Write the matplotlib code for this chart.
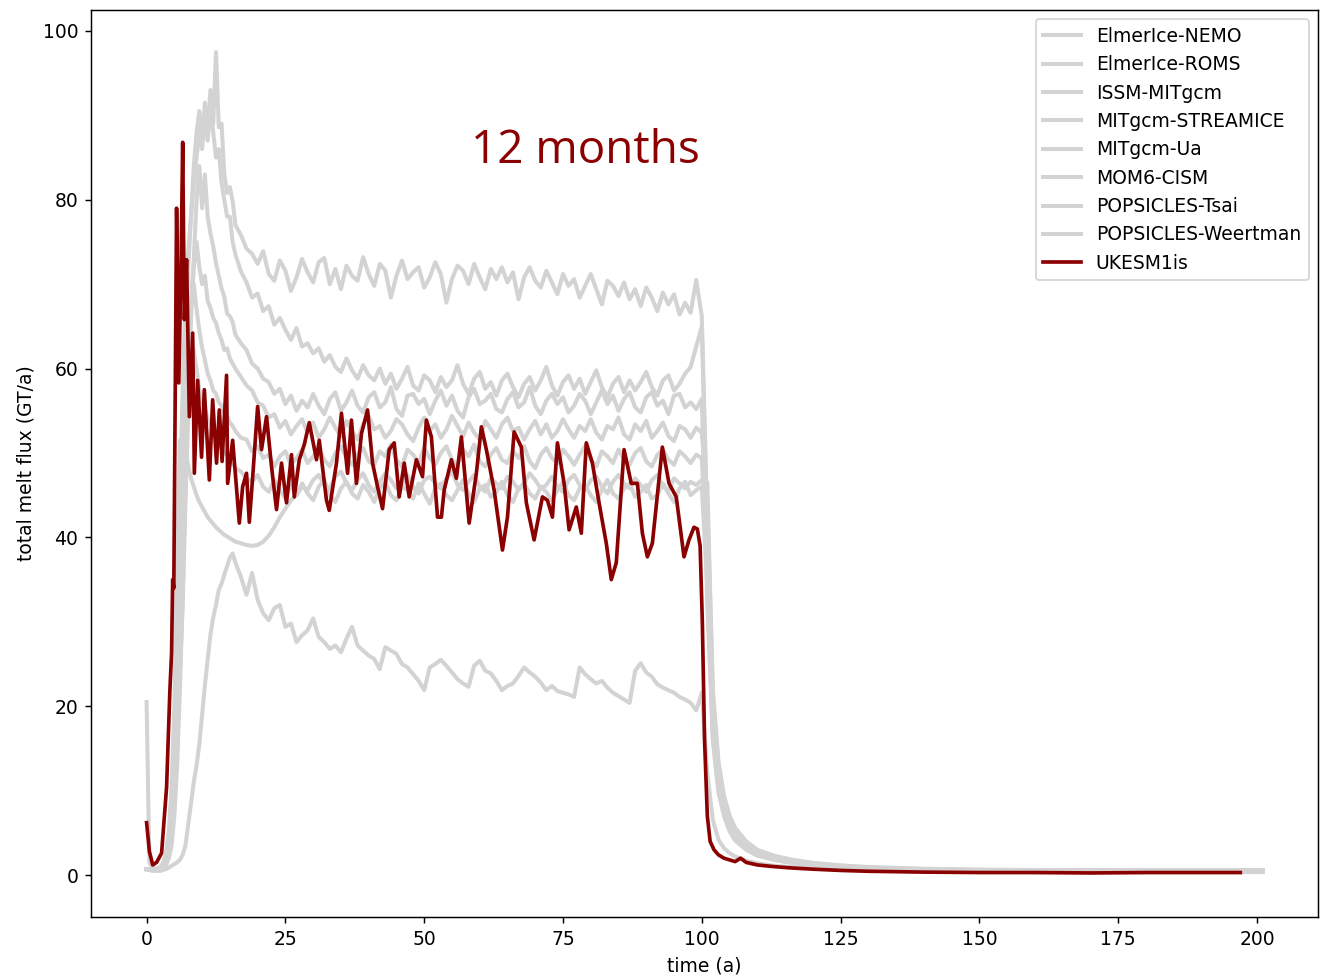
import numpy as np
import matplotlib
matplotlib.use('AGG')
import matplotlib.pyplot as plt

plt.rcParams['font.size'] = 10.25

# time axis shared by the grey (ensemble) models
t_early = [0, 0.5, 1, 1.5, 2, 2.5, 3, 3.5, 4, 4.5, 5, 5.5, 6, 6.5, 7, 7.5,
           8, 8.5, 9, 9.5, 10, 10.5, 11, 11.5, 12, 12.5, 13, 13.5, 14, 14.5,
           15, 15.5, 16]
t_mid = list(range(17, 101))
t_tail = [101, 102, 103, 104, 105, 106, 108, 110, 113, 116, 120, 125, 130,
          140, 150, 160, 170, 180, 190, 201]
t_grey = np.array(t_early + t_mid + t_tail, dtype=float)

# --- grey models: early (0-16 by 0.5), mid (17-100 yearly), tail ---
elmerice_nemo = [
    20.5, 1.5, 0.9, 0.8, 0.8, 1.0, 1.4, 2.5, 5.0, 10.0, 18.0, 30.0, 45.0, 58.0, 68.0, 74.0,
    78.0, 82.0, 85.0, 88.0, 86.0, 90.0, 87.0, 91.0, 88.0, 85.0, 86.0, 82.0, 80.0, 78.0,
    78.0, 75.0, 73.5,
    71.5, 70.2, 68.4, 68.9, 66.8, 67.4, 65.2, 66.0, 64.6, 63.4, 64.8, 62.6,
    63.0, 61.8, 62.4, 60.8, 61.6, 60.2, 59.6, 61.2, 59.8, 58.8, 60.4, 59.2,
    58.6, 60.0, 58.2, 59.4, 57.6, 58.8, 60.2, 58.0, 57.4, 59.2, 58.6, 57.2,
    59.0, 57.8, 58.6, 60.4, 58.2, 57.0, 58.8, 59.6, 57.6, 58.4, 56.8, 58.6,
    59.4, 57.8, 56.6, 58.2, 59.0, 57.4, 58.6, 60.2, 58.0, 56.8, 58.4, 59.2,
    57.6, 58.8, 57.0, 58.4, 59.8, 57.8, 56.6, 58.2, 59.0, 57.2, 58.6, 57.4,
    58.4, 59.6, 57.8, 56.8, 58.6, 59.2, 57.4, 58.2, 59.4, 60.2, 62.6, 65.0,
    40.0, 19.0, 11.5, 8.0, 6.0, 4.8, 3.4, 2.6, 2.0, 1.6, 1.3, 1.0, 0.85,
    0.65, 0.55, 0.5, 0.5, 0.5, 0.5, 0.5]

elmerice_roms = [
    0.7, 0.7, 0.6, 0.6, 0.6, 0.7, 0.9, 1.3, 2.2, 4.0, 8.0, 15.0, 26.0, 40.0, 52.0, 62.0,
    68.0, 73.0, 80.0, 84.0, 79.0, 83.0, 78.0, 76.0, 74.5, 72.5, 71.0, 69.5, 68.5, 66.5,
    66.2, 65.5, 64.0,
    63.0, 62.2, 60.6, 60.0, 58.8, 58.4, 57.0, 57.6, 55.8, 56.8, 55.0, 56.2,
    55.4, 57.0, 55.6, 54.6, 56.4, 57.2, 55.0, 56.0, 57.4, 55.6, 54.8, 56.6,
    57.2, 55.4, 56.0, 57.8, 55.2, 54.4, 56.8, 57.0, 55.8, 56.4, 54.6, 56.2,
    57.4, 55.6, 56.8, 55.0, 54.2, 56.6, 57.6, 55.8, 56.2, 57.0, 55.2, 54.8,
    56.4, 57.2, 55.4, 56.0, 57.8, 55.6, 54.6, 56.2, 57.0, 55.8, 56.6, 54.8,
    55.6, 57.0, 56.2, 54.6, 56.0, 57.4, 55.8, 56.8, 55.0, 56.4, 57.2, 55.4,
    54.8, 56.6, 57.2, 55.6, 56.2, 54.6, 56.8, 57.0, 55.4, 56.0, 55.2, 56.4,
    32.0, 16.0, 10.0, 7.2, 5.4, 4.3, 3.1, 2.4, 1.8, 1.5, 1.2, 0.95, 0.8,
    0.6, 0.5, 0.45, 0.45, 0.45, 0.45, 0.45]

issm_mitgcm = [
    0.7, 0.7, 0.6, 0.6, 0.6, 0.7, 1.0, 1.8, 3.5, 7.0, 13.0, 24.0, 38.0, 52.0, 64.0, 72.0,
    78.0, 84.0, 88.0, 90.5, 87.0, 91.5, 88.0, 93.0, 89.0, 97.5, 88.6, 89.0, 83.0, 80.8,
    81.5, 79.8, 77.0,
    75.8, 74.2, 73.6, 72.4, 73.9, 71.2, 70.4, 72.8, 71.6, 69.2, 70.8, 73.0,
    71.4, 70.2, 72.6, 73.1, 70.0, 71.8, 69.4, 72.2, 71.0, 70.4, 73.2, 71.2,
    69.8, 72.4, 71.6, 68.4, 71.0, 72.8, 70.6, 71.4, 72.0, 69.6, 70.8, 72.6,
    71.2, 67.8, 70.6, 72.2, 71.6, 70.0, 72.4, 70.8, 69.4, 71.8, 70.6, 72.0,
    70.2, 71.4, 68.2, 70.8, 72.0, 70.4, 69.6, 71.6, 70.2, 68.8, 71.2, 69.8,
    70.6, 68.4, 69.8, 71.2, 69.4, 67.6, 70.4, 69.8, 68.6, 70.2, 68.2, 69.4,
    67.4, 69.6, 68.4, 66.8, 69.0, 67.6, 68.8, 66.4, 67.8, 66.6, 70.5, 66.2,
    42.0, 20.0, 12.5, 8.8, 6.6, 5.2, 3.6, 2.8, 2.1, 1.7, 1.35, 1.05, 0.9,
    0.7, 0.6, 0.55, 0.55, 0.55, 0.55, 0.55]

mitgcm_streamice = [
    0.7, 0.7, 0.6, 0.6, 0.6, 0.6, 0.8, 1.2, 2.0, 3.5, 7.0, 13.0, 22.0, 33.0, 44.0, 55.0,
    66.0, 72.0, 75.0, 72.0, 70.0, 71.0, 68.0, 67.2, 66.0, 65.4, 64.2, 63.4, 62.2, 62.4,
    61.2, 60.6, 60.0,
    59.0, 58.0, 57.4, 56.0, 55.6, 54.2, 54.6, 53.0, 53.8, 52.2, 53.2, 54.0,
    52.4, 53.6, 51.8, 52.8, 54.2, 53.0, 52.0, 53.8, 52.6, 51.6, 53.4, 54.4,
    52.8, 53.2, 51.8, 52.6, 54.0, 53.4, 52.2, 51.4, 53.0, 54.2, 52.6, 53.4,
    51.8, 52.8, 54.4, 53.2, 52.0, 53.6, 52.4, 51.6, 53.8, 52.8, 51.8, 53.4,
    54.2, 52.6, 53.0, 51.6, 52.8, 53.8, 52.2, 53.4, 51.8, 52.6, 54.0, 52.8,
    51.8, 53.2, 52.6, 54.0, 52.4, 51.6, 53.2, 52.8, 54.2, 52.2, 51.6, 53.4,
    52.6, 53.8, 51.8, 52.6, 53.6, 52.0, 51.4, 53.2, 52.8, 51.8, 53.0, 52.4,
    44.0, 22.0, 13.5, 9.4, 7.0, 5.5, 3.8, 2.9, 2.2, 1.8, 1.4, 1.1, 0.9,
    0.7, 0.6, 0.55, 0.55, 0.55, 0.6, 0.6]

mitgcm_ua = [
    0.7, 0.7, 0.6, 0.6, 0.6, 0.7, 1.0, 1.6, 3.0, 6.0, 11.0, 19.0, 29.0, 38.0, 46.0, 58.0,
    68.0, 70.0, 67.0, 64.5, 62.5, 61.0, 59.4, 58.6, 57.4, 57.0, 56.0, 55.6, 54.8, 54.4,
    53.6, 53.2, 52.6,
    51.8, 51.6, 50.2, 50.8, 49.4, 49.8, 48.4, 49.6, 50.2, 48.6, 49.4, 50.4,
    48.8, 49.6, 50.6, 49.2, 48.4, 50.0, 50.8, 49.4, 48.6, 49.8, 50.6, 49.0,
    48.6, 50.2, 49.6, 51.0, 49.2, 48.4, 50.4, 49.8, 48.8, 50.6, 49.4, 48.6,
    50.0, 50.8, 49.2, 48.6, 50.4, 49.6, 51.0, 49.0, 48.4, 49.8, 50.6, 49.2,
    48.8, 50.2, 49.4, 50.8, 49.0, 48.2, 49.8, 50.6, 49.4, 48.8, 50.4, 49.6,
    48.6, 49.8, 50.8, 49.2, 48.4, 50.2, 49.6, 48.8, 50.4, 49.2, 48.6, 50.0,
    50.6, 49.0, 48.4, 49.8, 50.4, 49.2, 48.6, 50.2, 49.6, 48.8, 49.8, 49.4,
    36.0, 17.0, 10.5, 7.4, 5.6, 4.4, 3.2, 2.5, 1.9, 1.5, 1.2, 0.95, 0.8,
    0.6, 0.5, 0.45, 0.45, 0.45, 0.5, 0.5]

mom6_cism = [
    0.7, 0.6, 0.5, 0.5, 0.5, 0.5, 0.6, 0.7, 0.9, 1.1, 1.3, 1.5, 1.8, 2.4, 3.5, 6.0,
    8.5, 11.0, 13.0, 15.5, 19.0, 22.5, 25.5, 28.5, 30.5, 32.0, 33.8, 34.5, 35.6, 36.6,
    37.6, 38.1, 37.0,
    35.3, 33.2, 35.8, 32.6, 31.0, 30.2, 31.6, 32.0, 29.4, 29.8, 27.6, 28.4,
    29.0, 30.4, 28.2, 27.6, 26.8, 27.2, 26.4, 28.0, 29.4, 27.2, 26.6, 26.0,
    25.6, 24.4, 27.0, 26.6, 26.2, 25.0, 24.6, 23.8, 23.0, 21.9, 24.6, 25.0,
    25.5, 24.8, 24.0, 23.2, 22.7, 22.3, 24.8, 25.4, 24.2, 23.9, 23.0, 21.9,
    22.4, 22.7, 23.6, 24.6, 24.0, 23.5, 22.8, 21.9, 22.4, 21.8, 21.6, 21.4,
    21.1, 24.6, 23.8, 23.2, 22.7, 23.0, 22.2, 21.6, 21.2, 20.8, 20.4, 24.2,
    25.1, 24.0, 23.5, 22.6, 22.2, 21.9, 21.6, 21.1, 20.8, 20.4, 19.5, 21.6,
    12.0, 6.5, 4.2, 3.2, 2.6, 2.2, 1.7, 1.4, 1.1, 0.95, 0.8, 0.65, 0.55,
    0.45, 0.4, 0.35, 0.35, 0.35, 0.35, 0.35]

popsicles_tsai = [
    0.7, 0.7, 0.6, 0.6, 0.7, 0.9, 1.4, 2.5, 5.0, 10.0, 20.0, 38.0, 51.5, 51.8, 50.0, 48.5,
    47.0, 46.0, 45.0, 44.2, 43.6, 43.0, 42.4, 42.0, 41.6, 41.2, 40.9, 40.6, 40.3, 40.1,
    39.9, 39.7, 39.5,
    39.3, 39.1, 39.0, 39.1, 39.5, 40.2, 41.2, 42.4, 43.4, 44.4, 45.0, 46.0,
    45.6, 46.8, 47.4, 46.2, 45.8, 47.2, 47.8, 46.4, 45.6, 46.8, 47.6, 46.2,
    45.4, 46.6, 47.6, 46.8, 45.8, 46.2, 47.4, 46.0, 45.2, 46.8, 47.2, 46.4,
    45.8, 47.0, 47.8, 46.2, 45.6, 46.6, 47.4, 46.0, 45.4, 47.0, 46.4, 45.8,
    47.2, 46.6, 45.6, 46.4, 47.6, 46.8, 45.8, 46.2, 47.2, 46.0, 45.4, 46.8,
    47.4, 46.2, 45.6, 46.8, 47.2, 46.0, 45.2, 46.6, 47.4, 46.4, 45.8, 47.0,
    46.2, 45.4, 46.8, 47.4, 46.0, 45.6, 47.0, 46.4, 45.8, 46.6, 46.2, 46.8,
    46.5, 21.0, 13.0, 9.2, 7.0, 5.6, 4.0, 3.0, 2.3, 1.85, 1.45, 1.15, 0.95,
    0.75, 0.65, 0.6, 0.6, 0.6, 0.6, 0.6]

popsicles_weertman = [
    0.7, 0.7, 0.6, 0.6, 0.6, 0.7, 0.9, 1.4, 2.6, 5.0, 9.0, 16.0, 24.0, 32.0, 46.0, 58.0,
    64.0, 62.0, 60.0, 57.5, 56.0, 55.4, 54.0, 53.6, 52.4, 52.0, 51.2, 50.6, 50.0, 49.8,
    49.0, 48.8, 48.2,
    47.8, 47.0, 46.6, 47.4, 46.0, 45.4, 46.8, 45.6, 44.6, 46.2, 45.0, 46.4,
    45.2, 44.4, 46.0, 46.8, 45.0, 44.2, 45.8, 46.6, 45.2, 44.6, 46.2, 45.4,
    44.2, 45.8, 46.6, 45.0, 44.4, 46.0, 45.6, 44.6, 46.4, 45.2, 44.0, 45.8,
    46.4, 45.0, 44.4, 45.6, 46.8, 45.2, 44.2, 45.8, 46.2, 44.8, 45.4, 46.6,
    45.0, 44.2, 45.8, 46.4, 45.2, 44.6, 46.0, 45.4, 44.4, 45.6, 46.6, 45.0,
    44.4, 45.8, 46.2, 45.0, 44.2, 45.6, 46.8, 45.2, 44.6, 45.8, 46.4, 44.8,
    45.4, 46.2, 44.6, 45.0, 46.4, 45.2, 44.2, 45.8, 46.6, 45.0, 45.6, 46.0,
    34.0, 16.0, 9.8, 7.0, 5.2, 4.1, 3.0, 2.3, 1.8, 1.45, 1.15, 0.9, 0.75,
    0.6, 0.5, 0.45, 0.45, 0.45, 0.45, 0.45]

# --- highlighted model (own time axis) ---
ukesm_t = [0, 0.5, 1.1, 1.8, 2.7, 3.6, 4.2, 4.5, 4.7, 4.9, 5.4, 5.8, 6.2, 6.5, 6.8,
           7.2, 7.7, 8.3, 8.6, 9.2, 9.9, 10.4, 11.3, 11.9, 12.6, 13.1, 13.6, 14.4,
           14.6, 15.5, 16.7, 17.3, 18.0, 18.5, 19.2, 20.0, 20.7, 21.6, 22.5, 23.4,
           24.3, 25.2, 26.1, 26.6, 27.5, 28.4, 29.3, 30.6, 31.1, 32.4, 32.9, 34.2,
           35.1, 36.2, 36.9, 37.8, 38.7, 39.8, 40.7, 41.6, 42.5, 43.7, 44.6, 45.5,
           46.4, 47.3, 48.6, 49.7, 50.4, 51.3, 52.4, 53.1, 53.6, 54.9, 55.8, 56.7,
           58.1, 59.4, 60.3, 61.2, 62.6, 64.1, 65.0, 66.2, 67.5, 68.4, 69.8, 71.3,
           72.2, 73.1, 74.0, 75.2, 76.1, 77.4, 78.3, 79.2, 80.3, 81.5, 82.8, 83.7,
           84.6, 86.0, 87.3, 88.4, 89.3, 90.2, 91.1, 92.9, 94.1, 95.4, 96.8, 97.7,
           98.6, 99.2, 99.7, 100.1, 100.5, 101.0, 101.5, 102.2, 103, 104, 105, 106,
           107, 108, 110, 113, 116, 120, 125, 130, 140, 150, 160, 170, 180, 190, 197]
ukesm = [6.2, 2.8, 1.2, 1.5, 2.6, 10.4, 22.0, 26.3, 35.0, 34.0, 79.0, 58.3, 72.0, 86.8, 65.8,
         72.9, 54.3, 64.2, 47.6, 58.6, 49.5, 57.5, 46.8, 56.3, 48.8, 55.1, 49.0, 59.2,
         46.4, 51.5, 41.7, 46.0, 47.6, 41.8, 48.0, 55.5, 50.4, 54.3, 48.4, 43.3,
         48.8, 44.1, 49.8, 44.8, 49.2, 51.0, 53.6, 49.2, 51.5, 44.4, 43.2, 48.8,
         54.7, 47.6, 53.9, 46.4, 52.3, 55.1, 48.8, 46.0, 43.4, 50.4, 51.2, 44.8,
         48.8, 44.8, 49.2, 47.2, 53.9, 51.9, 42.4, 42.4, 45.6, 49.2, 47.0, 51.9,
         41.7, 47.6, 53.1, 50.4, 45.6, 38.5, 42.4, 52.5, 50.7, 44.1, 39.7, 44.8,
         44.4, 42.4, 51.2, 46.4, 40.9, 43.6, 40.5, 51.2, 48.8, 44.1, 39.3, 35.0,
         37.0, 50.4, 46.4, 46.4, 40.5, 37.7, 39.3, 50.7, 46.4, 44.8, 37.7, 39.7,
         41.2, 41.0, 39.0, 30.0, 16.0, 7.0, 4.0, 3.0, 2.4, 2.0, 1.8, 1.6,
         2.0, 1.5, 1.2, 1.0, 0.85, 0.7, 0.55, 0.45, 0.35, 0.3, 0.3, 0.25, 0.3, 0.3, 0.3]

grey_models = ['ElmerIce-NEMO', 'ElmerIce-ROMS', 'ISSM-MITgcm', 'MITgcm-STREAMICE',
               'MITgcm-Ua', 'MOM6-CISM', 'POPSICLES-Tsai', 'POPSICLES-Weertman']
grey_series = [elmerice_nemo, elmerice_roms, issm_mitgcm, mitgcm_streamice,
               mitgcm_ua, mom6_cism, popsicles_tsai, popsicles_weertman]

fig = plt.figure(figsize=(10, 980 / 132), dpi=132)
ax = fig.add_axes([0.069, 0.064, 0.9295, 0.926])

for name, vals in zip(grey_models, grey_series):
    ax.plot(t_grey, vals, color='lightgrey', lw=2.2, label=name)
ax.plot(ukesm_t, ukesm, color='darkred', lw=2, label='UKESM1is')

ax.set_xlim(-10, 211)
ax.set_ylim(-5, 102.5)
ax.set_xlabel('time (a)')
ax.set_ylabel('total melt flux (GT/a)')
ax.legend(loc='upper right')
ax.text(79, 85.8, '12 months', color='darkred', fontsize=25,
        family=['Open Sans', 'DejaVu Sans'], ha='center', va='center')

fig.savefig('out.png', dpi=132)
